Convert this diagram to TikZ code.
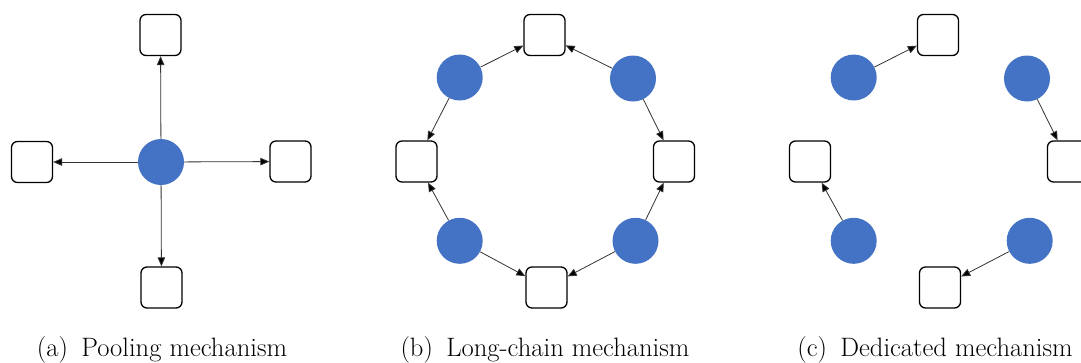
\documentclass[tikz,border=0pt]{standalone}
\usetikzlibrary{arrows.meta}
\definecolor{agentblue}{RGB}{68,114,196}
\begin{document}
\begin{tikzpicture}[x=1pt,y=-1pt,
  agent/.style={circle,fill=agentblue,draw=none,minimum size=46pt,inner sep=0pt},
  slot/.style={draw=black,line width=1.3pt,rounded corners=6pt,minimum size=41pt,inner sep=0pt,fill=white},
  link/.style={draw=black!80,line width=0.8pt,-{Triangle[length=9pt,width=7.5pt,fill=black]}},
  caption/.style={anchor=base,font=\fontsize{26.6}{30}\selectfont,inner sep=0pt}]
\useasboundingbox (0,0) rectangle (1081,362);

% (a) pooling: one agent feeding four slots
\node[agent] (pa) at (161,162) {};
\node[slot] (pt) at (160.5,35) {};
\node[slot] (pl) at (32,162) {};
\node[slot] (pr) at (290.5,161.5) {};
\node[slot] (pb) at (161.5,287.5) {};
\draw[link] (pa) -- (pt);
\draw[link] (pa) -- (pl);
\draw[link] (pa) -- (pr);
\draw[link] (pa) -- (pb);
\node[caption] (capa) at (162,356.5) {(a)\enspace Pooling mechanism};

% (b) long chain: ring of agents and slots
\node[slot] (bt) at (544.5,35) {};
\node[slot] (bl) at (416.5,161.5) {};
\node[slot] (br) at (674,161.5) {};
\node[slot] (bb) at (546.5,287.5) {};
\node[agent] (btl) at (459.7,77.5) {};
\node[agent] (btr) at (633,78.5) {};
\node[agent] (bbl) at (459.7,240.8) {};
\node[agent] (bbr) at (635.5,240.8) {};
\draw[link] (btl) -- (bt);
\draw[link] (btr) -- (bt);
\draw[link] (btl) -- (bl);
\draw[link] (bbl) -- (bl);
\draw[link] (btr) -- (br);
\draw[link] (bbr) -- (br);
\draw[link] (bbl) -- (bb);
\draw[link] (bbr) -- (bb);
\node[caption] (capb) at (545,356.5) {(b)\enspace Long-chain mechanism};

% (c) dedicated: each agent owns one slot
\node[slot] (ct) at (938,35) {};
\node[slot] (cl) at (810,161.5) {};
\node[slot] (cr) at (1068,161.5) {};
\node[slot] (cb) at (940,287.5) {};
\node[agent] (ctl) at (853.7,77.5) {};
\node[agent] (ctr) at (1027,78.5) {};
\node[agent] (cbl) at (853.7,240.8) {};
\node[agent] (cbr) at (1029.7,240.8) {};
\draw[link] (ctl) -- (ct);
\draw[link] (ctr) -- (cr);
\draw[link] (cbl) -- (cl);
\draw[link] (cbr) -- (cb);
\node[caption] (capc) at (935,356.5) {(c)\enspace Dedicated mechanism};
\end{tikzpicture}
\end{document}
